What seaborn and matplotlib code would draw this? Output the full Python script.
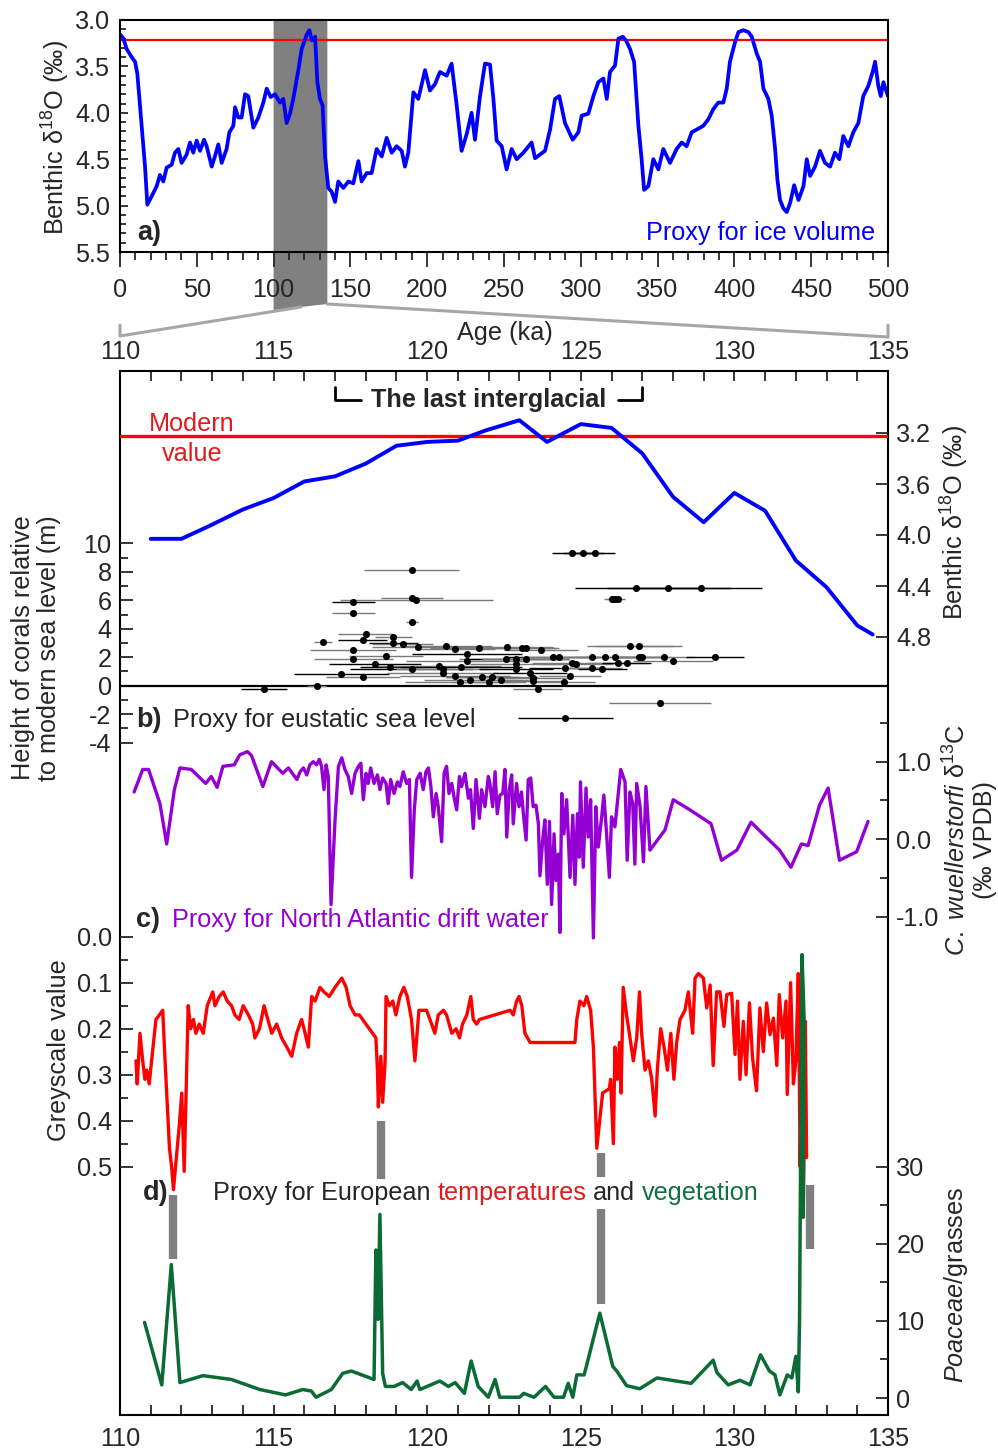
import pandas as pd
import seaborn as sns
import matplotlib.pyplot as plt
from matplotlib.ticker import MultipleLocator, FixedLocator, FormatStrFormatter
from matplotlib.patches import Polygon
from matplotlib.lines import Line2D

# ---------------- data ----------------
# a) benthic d18O stack, 0-500 ka
lr04_age = [0.4, 2.2, 4.3, 7.6, 9.8, 11.3, 14.1, 16.3, 17.8, 20.6,
            23.9, 26.0, 28.2, 30.4, 33.6, 35.8, 38.0, 40.1, 43.4, 45.6,
            47.7, 49.9, 52.1, 54.7, 56.4, 59.7, 61.8, 64.0, 66.2, 69.4,
            71.2, 73.8, 74.9, 77.0, 79.2, 81.4, 83.5, 86.8, 90.1, 93.3,
            95.5, 98.1, 100.9, 104.2, 106.3, 108.5, 110.7, 112.8, 116.1, 118.3,
            121.5, 123.3, 124.8, 127.0, 128.5, 130.2, 131.9, 133.5, 135.6, 137.8,
            140.0, 142.1, 145.4, 148.7, 151.9, 155.2, 157.3, 160.6, 163.8, 167.1,
            170.4, 173.6, 176.9, 180.1, 183.4, 185.5, 187.7, 191.0, 194.2, 198.6,
            201.8, 205.1, 208.3, 212.7, 215.9, 219.2, 222.4, 225.7, 228.9, 231.1,
            234.4, 237.6, 240.9, 243.1, 245.2, 248.5, 251.7, 255.0, 258.3, 262.6,
            268.0, 270.2, 276.7, 280.0, 283.2, 286.0, 289.7, 294.7, 298.4, 300.6,
            304.9, 308.2, 311.4, 314.7, 316.9, 319.0, 322.3, 324.5, 327.3, 329.4,
            332.0, 334.7, 337.5, 339.6, 341.2, 344.0, 347.2, 350.5, 353.7, 358.1,
            362.4, 365.7, 368.9, 372.2, 375.4, 379.8, 383.0, 386.3, 389.5, 392.8,
            395.0, 397.1, 400.4, 402.6, 405.8, 409.1, 411.3, 414.5, 416.7, 418.9,
            422.1, 424.3, 426.5, 428.0, 429.7, 431.9, 434.1, 436.3, 438.9, 441.7,
            445.0, 447.1, 449.3, 452.5, 455.7, 459.0, 462.3, 465.5, 468.3, 470.9,
            474.2, 477.4, 480.7, 483.9, 487.2, 490.0, 491.6, 493.7, 495.3, 497.0,
            500.0]
lr04_d18o = [3.16, 3.20, 3.31, 3.40, 3.45, 3.58, 4.14, 4.58, 4.99, 4.90,
             4.79, 4.67, 4.74, 4.59, 4.56, 4.43, 4.39, 4.54, 4.45, 4.32,
             4.43, 4.30, 4.41, 4.29, 4.36, 4.58, 4.47, 4.34, 4.54, 4.39,
             4.21, 4.14, 3.94, 4.05, 4.05, 3.80, 3.82, 4.16, 4.05, 3.89,
             3.74, 3.83, 3.80, 3.89, 3.85, 4.11, 4.01, 3.85, 3.54, 3.31,
             3.16, 3.11, 3.22, 3.18, 3.67, 3.85, 3.92, 4.47, 4.81, 4.85,
             4.96, 4.74, 4.81, 4.74, 4.76, 4.52, 4.74, 4.65, 4.65, 4.39,
             4.47, 4.27, 4.43, 4.36, 4.41, 4.58, 4.43, 3.78, 3.85, 3.54,
             3.76, 3.69, 3.56, 3.60, 3.47, 3.92, 4.41, 4.23, 4.00, 4.29,
             3.82, 3.47, 3.48, 3.85, 4.30, 4.36, 4.61, 4.39, 4.50, 4.43,
             4.32, 4.49, 4.41, 4.18, 3.85, 3.82, 4.11, 4.29, 4.21, 4.03,
             4.01, 3.82, 3.67, 3.63, 3.85, 3.56, 3.49, 3.20, 3.18, 3.22,
             3.31, 3.45, 4.14, 4.50, 4.83, 4.79, 4.50, 4.61, 4.39, 4.54,
             4.39, 4.32, 4.36, 4.21, 4.18, 4.14, 4.07, 3.96, 3.89, 3.89,
             3.74, 3.45, 3.24, 3.13, 3.11, 3.13, 3.18, 3.36, 3.45, 3.74,
             3.85, 4.03, 4.39, 4.72, 4.94, 5.03, 5.07, 4.97, 4.78, 4.94,
             4.79, 4.50, 4.68, 4.58, 4.41, 4.54, 4.58, 4.43, 4.50, 4.25,
             4.36, 4.21, 4.11, 3.82, 3.71, 3.56, 3.45, 3.71, 3.82, 3.67,
             3.82]
modern_d18o = 3.22
zoom_start, zoom_end = 100, 135

# benthic d18O across the last interglacial
d18o_age = [111.0, 112.0, 112.9, 114.0, 115.0, 116.0, 117.0, 118.0, 119.0, 120.0,
            121.0, 121.9, 123.0, 123.9, 125.0, 126.0, 127.0, 128.0, 129.0, 130.0,
            131.0, 132.0, 133.0, 134.0, 134.5]
d18o_val = [4.03, 4.03, 3.93, 3.80, 3.71, 3.58, 3.54, 3.44, 3.30, 3.27,
            3.26, 3.18, 3.10, 3.27, 3.13, 3.16, 3.36, 3.70, 3.90, 3.67,
            3.81, 4.20, 4.41, 4.71, 4.78]

# b) coral heights (m) with age uncertainties (ka)
coral_age = [114.7, 116.4, 116.6, 117.2, 117.6, 117.6, 117.6, 117.6, 117.9, 118.0,
             117.9, 118.3, 118.65, 118.8, 118.9, 118.9, 119.2, 119.5, 119.5, 119.65,
             119.5, 119.5, 119.7, 120.6, 120.9, 121.3, 121.3, 121.7, 120.4, 120.5,
             120.5, 120.9, 121.07, 121.1, 121.4, 121.8, 122.0, 122.1, 122.4, 122.6,
             122.55, 122.9, 122.9, 122.9, 123.1, 123.2, 123.2, 123.35, 123.45, 123.45,
             123.6, 123.7, 124.1, 124.3, 124.45, 124.5, 124.65, 124.7, 124.85, 124.72,
             125.08, 125.46, 125.35, 125.37, 125.7, 125.8, 126.1, 126.0, 126.1, 126.2,
             126.2, 126.5, 126.6, 126.9, 126.9, 127.0, 127.7, 128.0, 129.37, 126.8,
             127.85, 128.91, 127.58, 124.5]
coral_height = [-0.2, 0.0, 3.1, 0.8, 5.85, 5.1, 2.5, 1.9, 3.2, 3.6,
                0.6, 1.5, 2.1, 1.3, 3.45, 3.0, 2.9, 8.1, 6.15, 6.0,
                4.5, 1.2, 2.75, 2.8, 2.6, 2.25, 1.7, 2.65, 1.4, 1.2,
                0.9, 0.7, 0.25, 1.3, 0.4, 0.6, 0.25, 0.6, 0.4, 2.7,
                1.85, 1.9, 1.5, 1.2, 2.65, 2.65, 1.85, 0.9, 0.55, 0.3,
                -0.2, 2.5, 2.0, 2.0, 0.25, 1.25, 0.7, 1.6, 1.5, 9.35,
                9.35, 9.35, 1.25, 2.0, 1.15, 2.0, 2.0, 6.1, 6.1, 6.1,
                1.6, 1.6, 2.8, 2.8, 2.0, 2.0, 2.0, 1.7, 2.0, 6.85,
                6.85, 6.85, -1.2, -2.25]
coral_err = [0.75, 0.3, 0.3, 1.55, 0.7, 0.7, 1.4, 1.3, 0.8, 0.9,
             1.2, 1.5, 1.2, 1.0, 0.6, 0.8, 1.0, 1.55, 1.0, 2.5,
             0.2, 2.0, 1.5, 1.5, 1.3, 1.8, 2.0, 1.6, 2.0, 1.5,
             1.8, 1.8, 1.8, 2.0, 1.5, 1.2, 1.2, 1.5, 1.0, 1.5,
             1.5, 1.7, 1.5, 1.2, 1.2, 1.0, 1.4, 1.2, 1.2, 1.0,
             0.8, 1.2, 1.5, 1.2, 1.0, 1.2, 1.0, 1.3, 1.2, 0.66,
             0.66, 0.66, 1.0, 1.0, 0.8, 1.0, 0.8, 0.25, 0.25, 0.25,
             1.0, 0.8, 1.4, 1.4, 0.9, 0.9, 1.0, 1.3, 0.95, 2.0,
             2.0, 2.0, 1.65, 1.55]
coral_dark = [1, 0, 0, 1, 1, 0, 0, 0, 1, 0,
              0, 1, 0, 1, 0, 1, 0, 0, 0, 0,
              0, 1, 0, 0, 0, 1, 0, 0, 0, 0,
              0, 0, 0, 1, 0, 1, 0, 0, 0, 0,
              0, 1, 0, 1, 0, 0, 0, 1, 0, 0,
              0, 0, 1, 0, 0, 1, 0, 0, 0, 1,
              1, 1, 0, 0, 1, 0, 0, 0, 0, 0,
              0, 1, 0, 0, 1, 0, 0, 0, 1, 1,
              1, 1, 0, 1]

# c) C. wuellerstorfi d13C
c13_age = [110.46, 110.74, 110.93, 111.30, 111.52, 111.77, 111.95, 112.32, 112.79, 112.97,
           113.16, 113.35, 113.72, 113.90, 114.15, 114.28, 114.65, 114.93, 115.30, 115.48,
           115.76, 115.86, 115.97, 116.08, 116.18, 116.29, 116.40, 116.49, 116.56, 116.64,
           116.71, 116.78, 116.87, 117.00, 117.11, 117.22, 117.32, 117.43, 117.54, 117.65,
           117.76, 117.84, 117.92, 118.01, 118.08, 118.16, 118.27, 118.38, 118.46, 118.55,
           118.66, 118.73, 118.81, 118.92, 119.03, 119.11, 119.22, 119.33, 119.42, 119.49,
           119.58, 119.66, 119.77, 119.87, 119.96, 120.04, 120.12, 120.20, 120.29, 120.36,
           120.47, 120.55, 120.63, 120.71, 120.80, 120.88, 120.96, 121.05, 121.12, 121.23,
           121.34, 121.41, 121.50, 121.59, 121.70, 121.77, 121.88, 121.99, 122.04, 122.13,
           122.21, 122.28, 122.37, 122.46, 122.53, 122.59, 122.67, 122.75, 122.80, 122.91,
           122.99, 123.07, 123.13, 123.22, 123.29, 123.37, 123.45, 123.54, 123.62, 123.67,
           123.76, 123.83, 123.91, 123.98, 124.05, 124.13, 124.19, 124.27, 124.32, 124.38,
           124.45, 124.54, 124.65, 124.74, 124.81, 124.89, 124.95, 124.99, 125.08, 125.17,
           125.24, 125.32, 125.41, 125.49, 125.57, 125.68, 125.75, 125.84, 125.93, 126.00,
           126.11, 126.30, 126.44, 126.51, 126.60, 126.69, 126.76, 126.82, 126.93, 127.04,
           127.12, 127.25, 127.74, 128.01, 128.55, 129.24, 129.58, 130.08, 130.54, 131.47,
           131.84, 132.18, 132.40, 132.77, 133.05, 133.42, 133.98, 134.35]
c13_val = [0.61, 0.90, 0.90, 0.46, -0.06, 0.64, 0.92, 0.90, 0.72, 0.81,
           0.67, 0.94, 0.96, 1.09, 1.13, 1.08, 0.68, 1.00, 0.85, 0.92,
           0.77, 0.87, 0.92, 0.83, 0.96, 1.00, 0.96, 1.03, 0.94, 0.64,
           0.96, 0.81, -0.84, 0.25, 0.94, 1.05, 0.90, 0.81, 0.59, 0.85,
           0.94, 0.98, 0.51, 0.85, 0.72, 0.92, 0.72, 0.83, 0.64, 0.79,
           0.72, 0.46, 0.77, 0.59, 0.74, 0.68, 0.87, 0.72, 0.77, -0.49,
           0.38, 0.77, 0.85, 0.64, 0.87, 0.92, 0.68, 0.29, 0.59, 0.42,
           -0.03, 0.85, 0.94, 0.59, 0.72, 0.53, 0.38, 0.81, 0.68, 0.85,
           0.53, 0.64, 0.14, 0.77, 0.27, 0.64, 0.42, 0.81, 0.72, 0.42,
           0.87, 0.33, 0.57, 0.59, 0.90, 0.03, 0.64, 0.83, 0.20, 0.72,
           0.42, 0.61, 0.33, -0.01, 0.77, 0.79, 0.42, 0.44, 0.20, -0.47,
           -0.01, 0.25, -0.58, 0.23, -0.84, 0.07, -0.53, -0.19, -1.20, 0.59,
           0.07, 0.51, -0.49, 0.31, -0.58, 0.33, -0.23, 0.74, -0.36, 0.66,
           0.03, 0.51, -1.27, 0.42, -0.10, 0.29, 0.57, 0.07, -0.49, 0.29,
           0.16, 0.90, 0.74, -0.27, 0.61, 0.46, -0.32, 0.72, 0.42, -0.29,
           0.68, -0.14, 0.12, 0.51, 0.38, 0.20, -0.27, -0.14, 0.22, -0.14,
           -0.36, -0.06, -0.08, 0.44, 0.66, -0.27, -0.16, 0.23]

# d) greyscale (temperature proxy)
grey_age = [110.52, 110.56, 110.65, 110.74, 110.81, 110.87, 110.95, 111.06, 111.17, 111.28,
            111.39, 111.46, 111.61, 111.68, 111.74, 111.82, 111.93, 112.01, 112.09, 112.15,
            112.22, 112.30, 112.39, 112.47, 112.58, 112.71, 112.84, 113.02, 113.09, 113.23,
            113.36, 113.49, 113.63, 113.74, 113.88, 114.01, 114.18, 114.32, 114.39, 114.54,
            114.69, 114.77, 114.94, 115.10, 115.26, 115.43, 115.59, 115.75, 115.91, 115.99,
            116.13, 116.24, 116.35, 116.51, 116.64, 116.81, 117.00, 117.22, 117.36, 117.49,
            117.65, 117.79, 118.33, 118.38, 118.41, 118.49, 118.55, 118.63, 118.66, 118.77,
            118.88, 118.98, 119.11, 119.24, 119.35, 119.49, 119.60, 119.73, 119.88, 119.98,
            120.09, 120.25, 120.36, 120.53, 120.63, 120.80, 120.94, 121.05, 121.15, 121.29,
            121.42, 121.50, 121.61, 121.70, 122.70, 122.80, 122.91, 122.99, 123.08, 123.18,
            123.35, 124.81, 124.87, 124.97, 125.10, 125.19, 125.32, 125.41, 125.52, 125.63,
            125.71, 125.93, 125.97, 126.06, 126.11, 126.19, 126.26, 126.31, 126.38, 126.49,
            126.58, 126.71, 126.82, 126.91, 126.98, 127.09, 127.20, 127.31, 127.42, 127.49,
            127.60, 127.71, 127.82, 127.93, 128.03, 128.12, 128.23, 128.39, 128.50, 128.58,
            128.64, 128.72, 128.83, 128.99, 129.10, 129.21, 129.31, 129.42, 129.53, 129.66,
            129.75, 129.91, 130.02, 130.10, 130.18, 130.29, 130.38, 130.49, 130.59, 130.72,
            130.83, 130.94, 131.05, 131.16, 131.27, 131.38, 131.46, 131.57, 131.68, 131.72,
            131.83, 131.92, 132.00, 132.08, 132.14, 132.20, 132.24, 132.31, 132.35]
grey_val = [0.27, 0.32, 0.21, 0.27, 0.31, 0.29, 0.32, 0.25, 0.18, 0.17,
            0.16, 0.26, 0.46, 0.50, 0.55, 0.49, 0.41, 0.34, 0.51, 0.34,
            0.15, 0.20, 0.18, 0.21, 0.19, 0.21, 0.15, 0.12, 0.15, 0.13,
            0.12, 0.14, 0.15, 0.17, 0.18, 0.15, 0.17, 0.19, 0.22, 0.20,
            0.15, 0.17, 0.21, 0.19, 0.22, 0.24, 0.26, 0.21, 0.18, 0.20,
            0.24, 0.13, 0.14, 0.11, 0.12, 0.13, 0.11, 0.09, 0.11, 0.15,
            0.17, 0.17, 0.22, 0.29, 0.37, 0.26, 0.36, 0.27, 0.13, 0.15,
            0.14, 0.17, 0.13, 0.11, 0.13, 0.18, 0.27, 0.16, 0.16, 0.16,
            0.18, 0.21, 0.17, 0.16, 0.17, 0.21, 0.20, 0.22, 0.19, 0.17,
            0.13, 0.18, 0.19, 0.18, 0.16, 0.17, 0.14, 0.13, 0.15, 0.21,
            0.23, 0.23, 0.18, 0.14, 0.15, 0.13, 0.16, 0.24, 0.46, 0.39,
            0.34, 0.33, 0.31, 0.45, 0.24, 0.31, 0.23, 0.34, 0.11, 0.17,
            0.21, 0.27, 0.22, 0.12, 0.21, 0.29, 0.27, 0.31, 0.39, 0.29,
            0.20, 0.24, 0.29, 0.21, 0.31, 0.23, 0.18, 0.16, 0.12, 0.17,
            0.21, 0.09, 0.08, 0.09, 0.155, 0.105, 0.28, 0.12, 0.12, 0.195,
            0.126, 0.123, 0.256, 0.14, 0.31, 0.184, 0.30, 0.144, 0.263, 0.335,
            0.155, 0.25, 0.144, 0.213, 0.177, 0.28, 0.126, 0.22, 0.14, 0.343,
            0.10, 0.32, 0.27, 0.08, 0.50, 0.227, 0.61, 0.184, 0.48]

# d) Poaceae / grasses (vegetation proxy)
poa_age = [110.80, 111.36, 111.67, 111.95, 112.70, 113.63, 114.55, 115.39, 115.95, 116.23,
           116.38, 116.88, 117.25, 117.53, 118.27, 118.33, 118.40, 118.46, 118.55, 118.64,
           118.92, 119.20, 119.48, 119.67, 119.76, 120.41, 120.69, 120.91, 121.21, 121.43,
           121.66, 121.99, 122.21, 122.36, 123.01, 123.14, 123.48, 123.85, 124.13, 124.44,
           124.59, 124.74, 124.87, 125.11, 125.62, 126.04, 126.17, 126.49, 126.92, 127.48,
           128.59, 129.31, 129.43, 129.80, 130.18, 130.51, 130.85, 131.14, 131.32, 131.48,
           131.72, 131.87, 132.00, 132.08, 132.12, 132.20, 132.27, 132.24]
poa_val = [9.8, 1.7, 17.3, 2.0, 2.9, 2.4, 1.1, 0.4, 1.1, 0.9,
           0.1, 1.1, 3.2, 3.5, 2.4, 19.2, 10.2, 23.8, 3.2, 1.5,
           1.5, 2.0, 1.1, 2.2, 1.1, 2.2, 1.5, 2.0, 0.6, 4.8,
           1.5, 0.1, 2.4, 0.1, 0.1, 0.6, 0.1, 1.5, 0.1, 0.1,
           1.9, 0.1, 3.0, 3.0, 11.0, 4.1, 3.5, 1.6, 1.2, 2.6,
           1.9, 4.9, 3.3, 1.7, 2.3, 1.7, 5.6, 3.5, 3.0, 0.4,
           3.0, 2.6, 5.4, 0.8, 10.0, 57.5, 49.0, 23.5]

# grey event bars (age, extent in Poaceae units)
event_age = [111.73, 118.48, 125.66, 132.46]
event_lo = [18.0, 28.4, 12.2, 19.3]
event_hi = [26.3, 35.9, 31.8, 27.6]
interglacial = (117.0, 127.0)

# ---------------- style ----------------
sns.set_theme(style='ticks')
plt.rcParams['font.family'] = ['Liberation Sans', 'DejaVu Sans']
plt.rcParams['mathtext.fontset'] = 'custom'
plt.rcParams['mathtext.rm'] = 'Liberation Sans'
plt.rcParams['mathtext.it'] = 'Liberation Sans:italic'
plt.rcParams['mathtext.bf'] = 'Liberation Sans:bold'
plt.rcParams['axes.unicode_minus'] = False

BLUE, RED, PURPLE, GREEN = '#0000ff', '#ff0000', '#9400d3', '#0b6b35'
TXT_RED, TXT_GREEN = '#e31a1c', '#137043'
FS = 18.2      # labels and annotations
TS = 18.2      # tick labels
BS = 19.5      # bold panel letters

W, H = 998, 1450
fig = plt.figure(figsize=(W / 100, H / 100), dpi=100)


def rect(l, t, r, b):
    return [l / W, 1 - b / H, (r - l) / W, (b - t) / H]


def fx(px):
    return px / W


def fy(py):
    return 1 - py / H


# ---------------- a) 0-500 ka ----------------
ax_a = fig.add_axes(rect(120, 20, 888, 252))
ax_a.patch.set_visible(False)
ax_a.axhline(modern_d18o, color=RED, lw=1.6, zorder=1)
sns.lineplot(x=lr04_age, y=lr04_d18o, ax=ax_a, color=BLUE, lw=2.7,
             estimator=None, sort=False, zorder=2)
ax_a.set_xlim(0, 500)
ax_a.set_ylim(5.5, 3.0)
ax_a.xaxis.set_major_locator(MultipleLocator(50))
ax_a.xaxis.set_minor_locator(MultipleLocator(10))
ax_a.yaxis.set_major_locator(MultipleLocator(0.5))
ax_a.yaxis.set_minor_locator(MultipleLocator(0.1))
ax_a.yaxis.set_major_formatter(FormatStrFormatter('%.1f'))
ax_a.tick_params(axis='x', which='major', direction='out', length=11, width=1.3,
                 labelsize=TS, pad=8)
ax_a.tick_params(axis='x', which='minor', direction='out', length=5.5, width=1.3)
ax_a.tick_params(axis='y', which='major', direction='in', length=6, width=1.3,
                 labelsize=TS, pad=7)
ax_a.tick_params(axis='y', which='minor', direction='in', length=4, width=1.3)
for s in ax_a.spines.values():
    s.set_linewidth(1.5)
    s.set_color('black')
ax_a.text(0.022, 0.08, 'a)', transform=ax_a.transAxes, fontsize=BS,
          fontweight='bold', ha='left', va='center')
ax_a.text(0.983, 0.08, 'Proxy for ice volume', transform=ax_a.transAxes,
          fontsize=FS, color=BLUE, ha='right', va='center')
fig.text(fx(56), fy(137), 'Benthic δ$^{18}$O (‰)', rotation=90, fontsize=FS,
         ha='center', va='center')
fig.text(fx(505), fy(333), 'Age (ka)', fontsize=FS, ha='center', va='center')

# shaded window and zoom connectors
x0 = 120 + zoom_start / 500 * 768
x1 = 120 + zoom_end / 500 * 768
fig.add_artist(Polygon([(fx(x0), fy(20)), (fx(x1), fy(20)), (fx(x1), fy(304)),
                        (fx(x0), fy(310))], closed=True, transform=fig.transFigure,
                       facecolor='#808080', edgecolor='none', zorder=-1))
fig.add_artist(Line2D([fx(120), fx(120), fx(301)], [fy(325), fy(336), fy(307)],
                      transform=fig.transFigure, color='#a6a6a6', lw=2.2))
fig.add_artist(Line2D([fx(x1), fx(888), fx(888)], [fy(304), fy(337), fy(325)],
                      transform=fig.transFigure, color='#a6a6a6', lw=2.2))

# ---------------- lower stacked panel ----------------
PL, PR, PT, PB = 120, 888, 371, 1415

ax = fig.add_axes(rect(PL, PT, PR, PB))
ax.set_xlim(110, 135)
ax.set_ylim(0, 1)
ax.xaxis.set_major_locator(MultipleLocator(5))
ax.xaxis.set_minor_locator(MultipleLocator(1))
ax.tick_params(axis='x', which='both', direction='in', top=True, bottom=True,
               labeltop=False, labelbottom=True, length=7, width=1.3,
               labelsize=TS, pad=9)
ax.tick_params(axis='y', left=False, labelleft=False)
for s in ax.spines.values():
    s.set_linewidth(1.5)
    s.set_color('black')

# interglacial bracket
ax.plot([interglacial[0], interglacial[0], interglacial[0] + 0.85], [0.985, 0.972, 0.972],
        color='black', lw=2)
ax.plot([interglacial[1] - 0.8, interglacial[1], interglacial[1]], [0.972, 0.972, 0.985],
        color='black', lw=2)
ax.text(sum(interglacial) / 2, 0.972, 'The last interglacial', fontsize=FS,
        fontweight='bold', ha='center', va='center')


def span(v0, p0, v1, p1):
    k = (v1 - v0) / (p1 - p0)
    return v0 + (PB - p0) * k, v0 + (PT - p0) * k


def overlay(name, side):
    o = fig.add_axes(rect(PL, PT, PR, PB), label=name)
    o.patch.set_visible(False)
    for s in o.spines.values():
        s.set_visible(False)
    o.tick_params(axis='x', which='both', bottom=False, top=False,
                  labelbottom=False, labeltop=False)
    o.yaxis.set_ticks_position(side)
    o.tick_params(axis='y', which='both', direction='in', width=1.3,
                  labelsize=TS, pad=6)
    o.tick_params(axis='y', which='major', length=9)
    o.tick_params(axis='y', which='minor', length=6)
    return o


# top age labels of the lower panel
ax_top = overlay('top', 'left')
ax_top.set_xlim(110, 135)
ax_top.xaxis.set_major_locator(MultipleLocator(5))
ax_top.tick_params(axis='x', which='major', top=False, labeltop=True, length=0,
                   labelsize=TS, pad=5)
ax_top.tick_params(axis='y', left=False, labelleft=False)

# b) coral heights
ax_sl = overlay('corals', 'left')
ax_sl.axhline(0, color='black', lw=1.6)
bar_cols = ['black' if d else '#7a7a7a' for d in coral_dark]
ax_sl.hlines(coral_height, [a - e for a, e in zip(coral_age, coral_err)],
             [a + e for a, e in zip(coral_age, coral_err)], colors=bar_cols, lw=1.0)
sns.scatterplot(x=coral_age, y=coral_height, ax=ax_sl, color='black', s=26,
                linewidth=0, zorder=4)
ax_sl.set_xlim(110, 135)
ax_sl.set_ylim(*span(0, 685.7, 10, 543.3))
ax_sl.yaxis.set_major_locator(FixedLocator([-4, -2, 0, 2, 4, 6, 8, 10]))
ax_sl.yaxis.set_minor_locator(FixedLocator([-3, -1, 1, 3, 5, 7, 9]))
ax_sl.yaxis.set_major_formatter(FormatStrFormatter('%d'))

# benthic d18O, right
ax_o = overlay('d18o', 'right')
ax_o.axhline(modern_d18o, color=RED, lw=2.4, zorder=1)
sns.lineplot(x=d18o_age, y=d18o_val, ax=ax_o, color=BLUE, lw=2.8,
             estimator=None, sort=False, zorder=2)
ax_o.set_xlim(110, 135)
ax_o.set_ylim(*span(3.2, 433, 4.8, 637))
ax_o.yaxis.set_major_locator(FixedLocator([3.2, 3.6, 4.0, 4.4, 4.8]))
ax_o.yaxis.set_major_formatter(FormatStrFormatter('%.1f'))

# c) d13C, right
ax_c = overlay('d13c', 'right')
sns.lineplot(x=c13_age, y=c13_val, ax=ax_c, color=PURPLE, lw=2.4,
             estimator=None, sort=False)
ax_c.set_xlim(110, 135)
ax_c.set_ylim(*span(0.0, 839.3, 1.0, 761.7))
ax_c.yaxis.set_major_locator(FixedLocator([-1.0, 0.0, 1.0]))
ax_c.yaxis.set_minor_locator(FixedLocator([-0.5, 0.5, 1.5]))
ax_c.yaxis.set_major_formatter(FormatStrFormatter('%.1f'))

# d) greyscale, left
ax_g = overlay('grey', 'left')
sns.lineplot(x=grey_age, y=grey_val, ax=ax_g, color=RED, lw=2.4,
             estimator=None, sort=False)
ax_g.set_xlim(110, 135)
ax_g.set_ylim(*span(0.0, 936.7, 0.5, 1166.7))
ax_g.yaxis.set_major_locator(FixedLocator([0.0, 0.1, 0.2, 0.3, 0.4, 0.5]))
ax_g.yaxis.set_minor_locator(FixedLocator([0.05, 0.15, 0.25, 0.35, 0.45]))
ax_g.yaxis.set_major_formatter(FormatStrFormatter('%.1f'))

# d) Poaceae, right
ax_p = overlay('poaceae', 'right')
ax_p.vlines(event_age, event_lo, event_hi, colors='#7f7f7f', lw=6, zorder=1)
sns.lineplot(x=poa_age, y=poa_val, ax=ax_p, color=GREEN, lw=2.5,
             estimator=None, sort=False, zorder=2)
ax_p.set_xlim(110, 135)
ax_p.set_ylim(*span(0, 1398, 30, 1166.7))
ax_p.yaxis.set_major_locator(FixedLocator([0, 10, 20, 30]))
ax_p.yaxis.set_minor_locator(FixedLocator([5, 15, 25]))
ax_p.yaxis.set_major_formatter(FormatStrFormatter('%d'))

# ---------------- panel texts ----------------
tf = fig.transFigure
ax_p.text(fx(192), fy(439), 'Modern\nvalue', transform=tf, color=TXT_RED,
          fontsize=FS, ha='center', va='center', linespacing=1.3)
ax_p.text(fx(136), fy(720), 'b)', transform=tf, fontsize=BS, fontweight='bold',
          ha='left', va='center')
ax_p.text(fx(173), fy(720), 'Proxy for eustatic sea level', transform=tf,
          fontsize=FS, ha='left', va='center')
ax_p.text(fx(136), fy(920), 'c)', transform=tf, fontsize=BS, fontweight='bold',
          ha='left', va='center')
ax_p.text(fx(172), fy(920), 'Proxy for North Atlantic drift water', transform=tf,
          fontsize=FS, color=PURPLE, ha='left', va='center')
ax_p.text(fx(143), fy(1193), 'd)', transform=tf, fontsize=BS, fontweight='bold',
          ha='left', va='center')
t1 = ax_p.text(fx(213), fy(1193), 'Proxy for European', transform=tf,
               fontsize=FS, ha='left', va='center')
t2 = ax_p.annotate('temperatures', xy=(1, 0), xycoords=t1, xytext=(5, 0),
                   textcoords='offset points', fontsize=FS, color=TXT_RED,
                   ha='left', va='bottom', annotation_clip=False)
t3 = ax_p.annotate('and', xy=(1, 0), xycoords=t2, xytext=(5, 0),
                   textcoords='offset points', fontsize=FS, ha='left', va='bottom',
                   annotation_clip=False,
                   bbox=dict(boxstyle='square,pad=0.15', fc='white', ec='none'))
ax_p.annotate('vegetation', xy=(1, 0), xycoords=t3, xytext=(5, 0),
              textcoords='offset points', fontsize=FS, color=TXT_GREEN,
              ha='left', va='bottom', annotation_clip=False)

# axis titles
fig.text(fx(36), fy(648), 'Height of corals relative\nto modern sea level (m)',
         rotation=90, fontsize=FS, ha='center', va='center', linespacing=1.15)
fig.text(fx(59), fy(1050), 'Greyscale value', rotation=90, fontsize=FS,
         ha='center', va='center')
fig.text(fx(955), fy(522), 'Benthic δ$^{18}$O (‰)', rotation=90, fontsize=FS,
         ha='center', va='center')
fig.text(fx(970), fy(840), '$\\it{C.\\ wuellerstorfi}$ δ$^{13}$C\n(‰ VPDB)',
         rotation=90, fontsize=FS, ha='center', va='center', linespacing=1.15)
fig.text(fx(956), fy(1285), '$\\it{Poaceae}$/grasses', rotation=90, fontsize=FS,
         ha='center', va='center')

fig.savefig('out.png', dpi=100, facecolor='white')
